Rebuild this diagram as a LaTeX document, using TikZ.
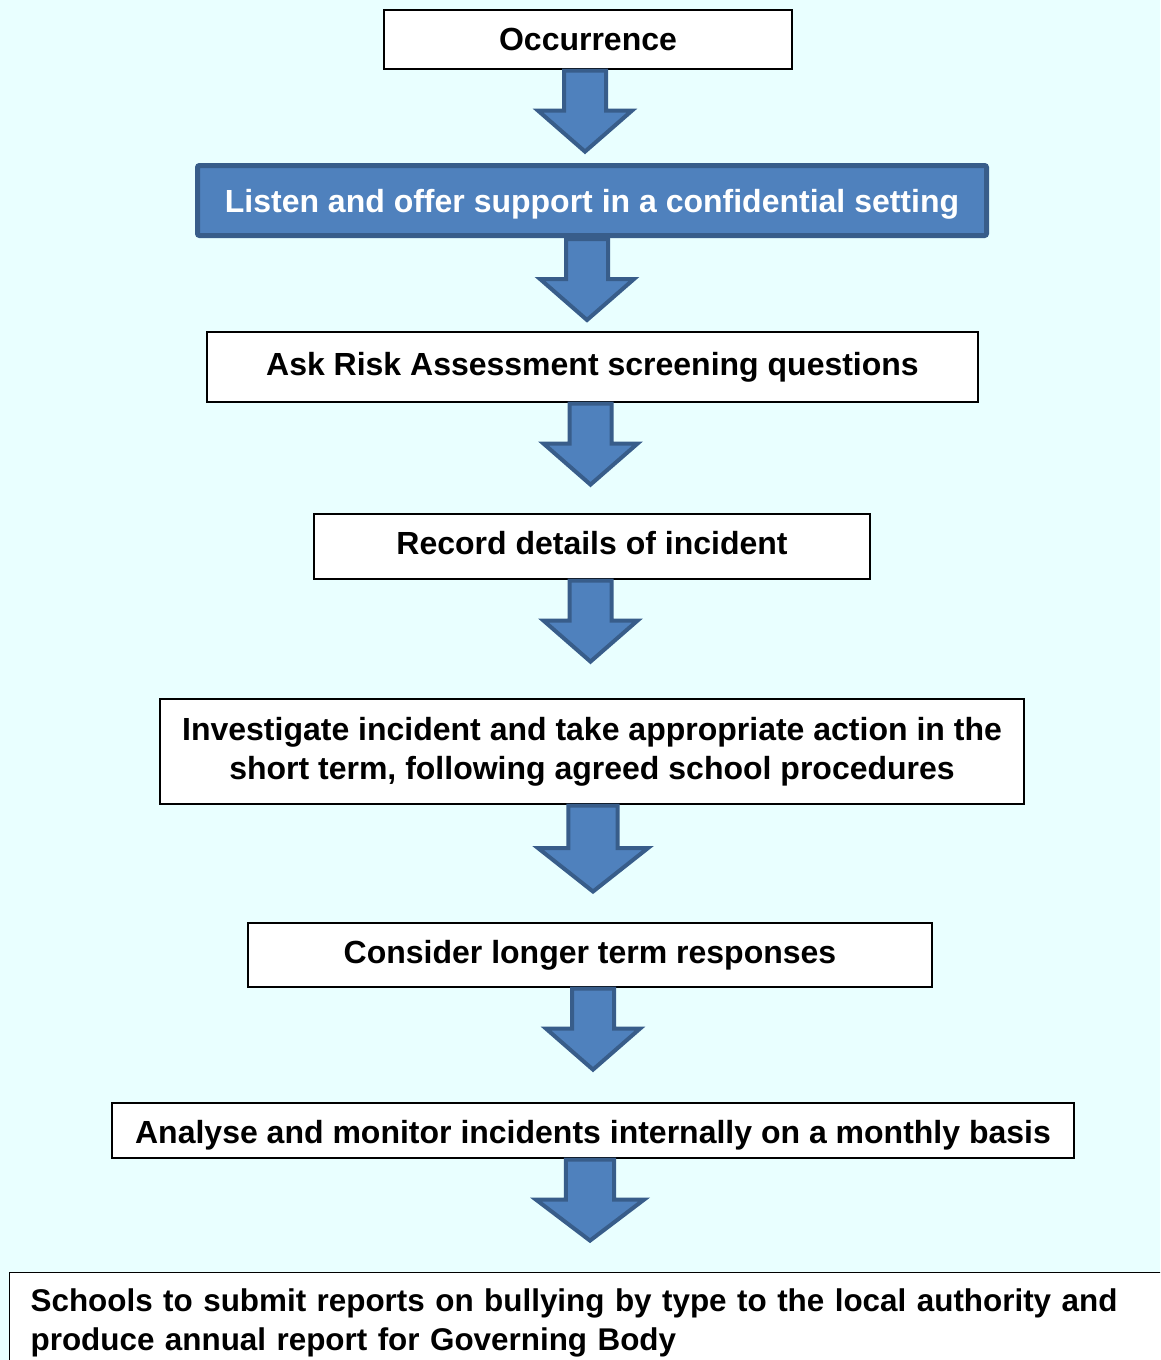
\documentclass[tikz,border=0pt]{standalone}
\usepackage{fontspec}
\setmainfont{Liberation Sans}
\definecolor{bgcyan}{HTML}{E9FFFF}
\definecolor{boxblue}{HTML}{4F81BD}
\definecolor{boxblueline}{HTML}{385D8A}
\tikzset{
  stepbox/.style={rectangle,draw=black,line width=1.2pt,fill=white,
    font=\fontsize{32}{39}\selectfont\bfseries,text height=23pt,text depth=7pt},
  bluebox/.style={stepbox,draw=boxblueline,fill=boxblue,text=white,
    line width=5pt,rounded corners=2pt},
  arrowline/.style={draw=boxblueline,fill=boxblue,line width=4pt,miter limit=10},
  downarrow/.pic={
    \draw[arrowline] (-21,1) -- (-21,41) -- (-47,41) -- (0,82)
      -- (47,41) -- (21,41) -- (21,1) -- cycle;
  }
}
\begin{document}
\begin{tikzpicture}[x=1pt,y=-1pt]
        \useasboundingbox (0,0) rectangle (1160,1360);
        \clip (0,0) rectangle (1160,1360);
        \fill[bgcyan] (0,0) rectangle (1160,1360);

        \begin{scope}[every node/.style={stepbox}]
          \node[minimum width=408pt,minimum height=59pt,text height=26pt,text depth=4pt]
            (occ) at (588,39.5) {Occurrence};
          \node[bluebox,minimum width=789pt,minimum height=70pt,text height=27pt,
            text depth=3pt] (lis) at (592,200.5)
            {Listen and offer support in a confidential setting};
          \node[minimum width=771pt,minimum height=70pt] (ask) at (592.5,367)
            {Ask Risk Assessment screening questions};
          \node[minimum width=556pt,minimum height=65pt] (rec) at (592,546.5)
            {Record details of incident};
          \node[minimum width=864pt,minimum height=105pt,align=center,
            text height=,text depth=] (inv) at (592,751.5)
            {Investigate incident and take appropriate action in the\\
             short term, following agreed school procedures};
          \node[minimum width=684pt,minimum height=64pt] (con) at (590,955)
            {Consider longer term responses};
          \node[minimum width=962pt,minimum height=55pt,text height=28pt,text depth=2pt]
            (ana) at (593,1130.5)
            {Analyse and monitor incidents internally on a monthly basis};
          \node[anchor=north west,align=left,text width=1150pt,inner xsep=21pt,
            inner ysep=16pt,text height=,text depth=,
            font=\fontsize{31.4}{39}\selectfont\bfseries] (rep) at (9,1272)
            {Schools to submit reports on bullying by type to the local authority and\\
             produce annual report for Governing Body};
        \end{scope}

        % block arrows between the steps
        \pic[xshift=-3pt] at (occ.south) {downarrow};
        \pic[xshift=-5pt] at (lis.south) {downarrow};
        \pic[xshift=-2pt] at (ask.south) {downarrow};
        \pic[xshift=-1.5pt] at (rec.south) {downarrow};
        \pic[xshift=1pt,xscale=1.17,yscale=1.06] at (inv.south) {downarrow};
        \pic[xshift=3pt] at (con.south) {downarrow};
        \pic[xshift=-3pt,xscale=1.15] at (ana.south) {downarrow};

      \end{tikzpicture}
\end{document}
